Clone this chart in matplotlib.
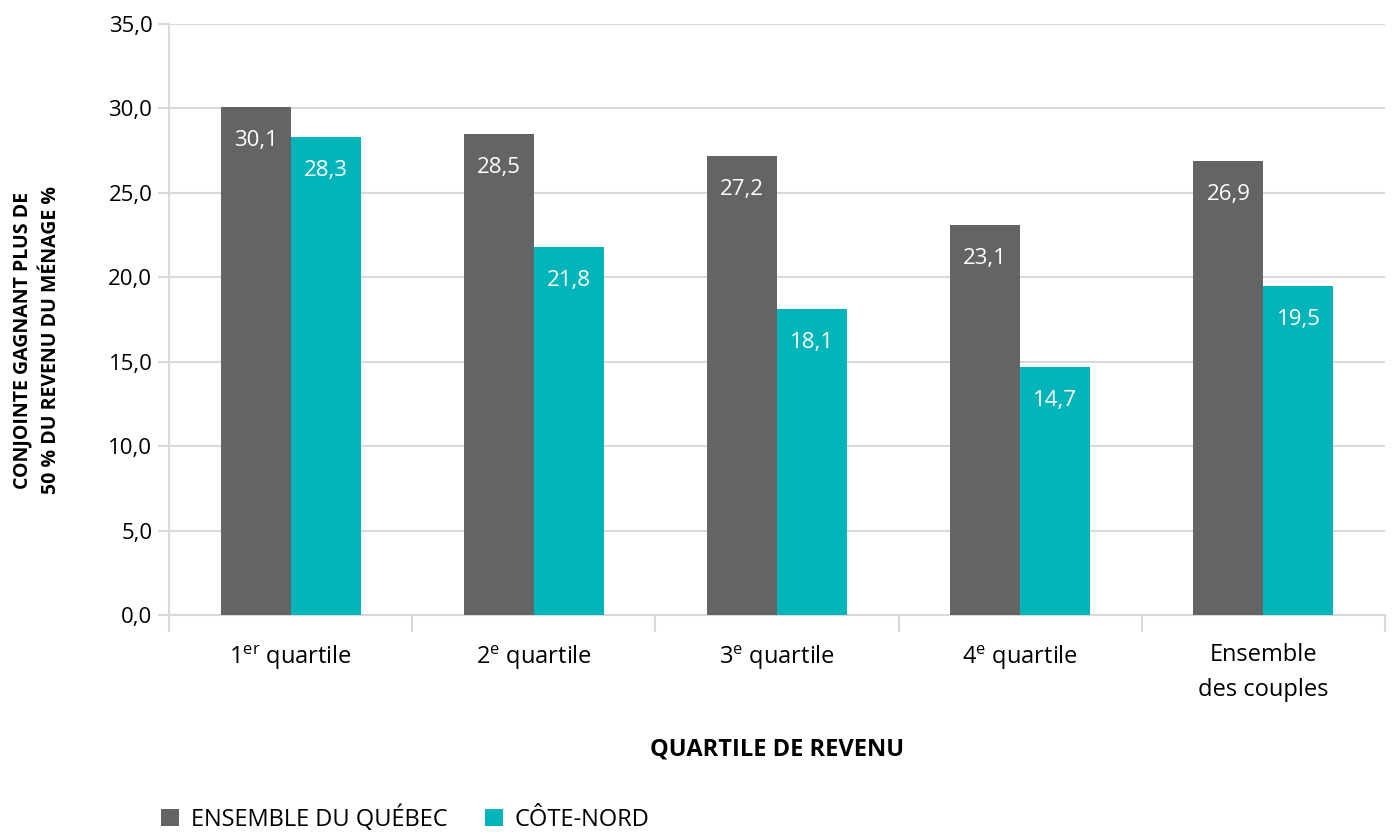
import matplotlib
matplotlib.use('Agg')
import matplotlib.pyplot as plt
import numpy as np

plt.rcParams['font.family'] = ['Open Sans', 'DejaVu Sans']

categories = [r"1$^{\mathregular{er}}$ quartile", r"2$^{\mathregular{e}}$ quartile",
              r"3$^{\mathregular{e}}$ quartile", r"4$^{\mathregular{e}}$ quartile",
              "Ensemble\ndes couples"]
quebec = [30.1, 28.5, 27.2, 23.1, 26.9]
cote_nord = [28.3, 21.8, 18.1, 14.7, 19.5]
series_names = ["ENSEMBLE DU QUÉBEC", "CÔTE-NORD"]

gray = '#636466'
teal = '#00B5BA'
grid = '#d9d9d9'

fig = plt.figure(figsize=(13.93, 8.38), dpi=100)
ax = fig.add_axes([169/1393, 1 - 615/838, (1385-169)/1393, (615-24)/838])

x = np.arange(len(categories))
w = 0.288
b1 = ax.bar(x - w/2, quebec, w, color=gray, label=series_names[0], zorder=3)
b2 = ax.bar(x + w/2, cote_nord, w, color=teal, label=series_names[1], zorder=3)

for bars, vals in [(b1, quebec), (b2, cote_nord)]:
    for r, v in zip(bars, vals):
        ax.annotate(f"{v:.1f}".replace('.', ','), (r.get_x() + r.get_width()/2, v),
                    xytext=(0, -24), textcoords='offset points', ha='center', va='center',
                    color='white', fontsize=16, zorder=4)

ax.set_ylim(0, 35)
ax.set_xlim(-0.5, len(categories) - 0.5)
ax.set_yticks(np.arange(0, 35.1, 5))
ax.set_yticklabels([f"{t:.1f}".replace('.', ',') for t in np.arange(0, 35.1, 5)], fontsize=16)
ax.yaxis.grid(True, color=grid, lw=1.5, zorder=0)
ax.tick_params(axis='y', length=8, color=grid, width=1.5, pad=4)

ax.set_xticks(np.arange(-0.5, len(categories), 1), minor=False)
ax.set_xticklabels([])
ax.set_xticks(x, minor=True)
ax.set_xticklabels(categories, minor=True, fontsize=17, linespacing=1.6)
ax.tick_params(axis='x', which='major', length=12, color=grid, width=1.5)
ax.tick_params(axis='x', which='minor', length=0, pad=20)

for s in ['top', 'right']:
    ax.spines[s].set_visible(False)
ax.spines['left'].set_color(grid)
ax.spines['left'].set_linewidth(1.5)
ax.spines['bottom'].set_color(grid)
ax.spines['bottom'].set_linewidth(1.5)

ax.set_xlabel("QUARTILE DE REVENU", fontsize=17, fontweight='bold', labelpad=26)
fig.text(37/1393, 1 - 340/838, "CONJOINTE GAGNANT PLUS DE\n50 % DU REVENU DU MÉNAGE %",
         rotation=90, ha='center', va='center', fontsize=14, fontweight='bold',
         linespacing=1.55)

fig.legend(handles=[b1, b2], loc='lower left', bbox_to_anchor=(140/1393, -0.018),
           ncol=2, frameon=False, fontsize=17, handlelength=0.75, handleheight=0.75,
           handletextpad=0.5, columnspacing=1.6)

fig.savefig('out.png', dpi=100)
